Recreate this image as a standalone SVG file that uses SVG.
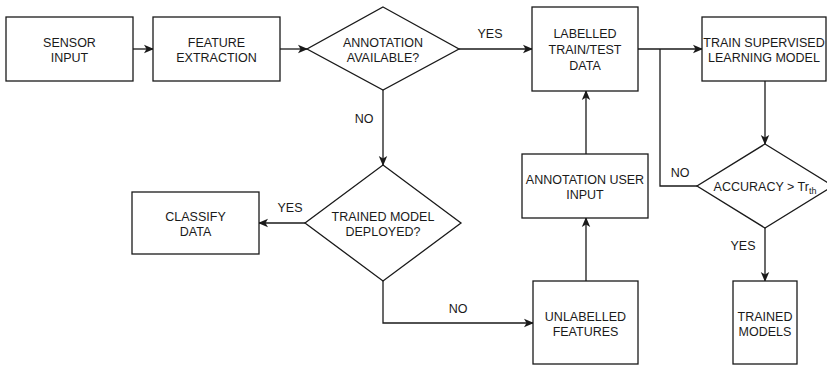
<svg xmlns="http://www.w3.org/2000/svg" width="827" height="366" viewBox="0 0 827 366">
<defs>
<marker id="arr" markerWidth="10" markerHeight="10" refX="9" refY="5" orient="auto" markerUnits="userSpaceOnUse">
<path d="M0,0.8 L10,5 L0,9.2 L2.5,5 Z" fill="#1a1a1a"/>
</marker>
<style>
.box{fill:#fff;stroke:#1a1a1a;stroke-width:1.3}
.ln{fill:none;stroke:#1a1a1a;stroke-width:1.3}
.t{font-family:"Liberation Sans",Arial,sans-serif;font-size:12.5px;fill:#1a1a1a;text-anchor:middle}
</style>
</defs>
<rect width="827" height="366" fill="#fff"/>
<g id="connectors">
<line class="ln" x1="133" y1="49" x2="153" y2="49" marker-end="url(#arr)"/>
<line class="ln" x1="280" y1="49" x2="307" y2="49" marker-end="url(#arr)"/>
<line class="ln" x1="459" y1="49" x2="532" y2="49" marker-end="url(#arr)"/>
<line class="ln" x1="638" y1="49" x2="702" y2="49" marker-end="url(#arr)"/>
<line class="ln" x1="765" y1="81" x2="765" y2="144" marker-end="url(#arr)"/>
<polyline class="ln" points="697,186 660,186 660,49"/>
<line class="ln" x1="765" y1="228" x2="765" y2="281" marker-end="url(#arr)"/>
<line class="ln" x1="383" y1="90" x2="383" y2="165" marker-end="url(#arr)"/>
<line class="ln" x1="305" y1="223" x2="259" y2="223" marker-end="url(#arr)"/>
<polyline class="ln" points="383,281 383,323 533,323" marker-end="url(#arr)"/>
<line class="ln" x1="586" y1="281" x2="586" y2="218" marker-end="url(#arr)"/>
<line class="ln" x1="586" y1="154" x2="586" y2="91" marker-end="url(#arr)"/>
<text class="t" x="490" y="37.5">YES</text>
<text class="t" x="364" y="122.5">NO</text>
<text class="t" x="290" y="211.5">YES</text>
<text class="t" x="458" y="312.5">NO</text>
<text class="t" x="680" y="176.5">NO</text>
<text class="t" x="743" y="249.5">YES</text>
</g>
<g id="sensor-input">
<rect class="box" x="6" y="17" width="127" height="64"/>
<text class="t" x="69.5" y="46.5">SENSOR</text>
<text class="t" x="69.5" y="61.5">INPUT</text>
</g>
<g id="feature-extraction">
<rect class="box" x="153" y="17" width="127" height="64"/>
<text class="t" x="216.5" y="46.5">FEATURE</text>
<text class="t" x="216.5" y="61.5">EXTRACTION</text>
</g>
<g id="annotation-available">
<polygon class="box" points="383,7 459,49 383,90 307,49"/>
<text class="t" x="383" y="46.5">ANNOTATION</text>
<text class="t" x="383" y="61.5">AVAILABLE?</text>
</g>
<g id="labelled-data">
<rect class="box" x="532" y="7" width="106" height="84"/>
<text class="t" x="585" y="37.5">LABELLED</text>
<text class="t" x="585" y="53.5">TRAIN/TEST</text>
<text class="t" x="585" y="69.5">DATA</text>
</g>
<g id="train-supervised">
<rect class="box" x="702" y="17" width="124" height="64"/>
<text class="t" x="764" y="46.5">TRAIN SUPERVISED</text>
<text class="t" x="764" y="61.5">LEARNING MODEL</text>
</g>
<g id="accuracy">
<polygon class="box" points="765,144 833,186 765,228 697,186"/>
<text class="t" x="765" y="190.5">ACCURACY &gt; Tr<tspan font-size="9" dy="3">th</tspan></text>
</g>
<g id="trained-models">
<rect class="box" x="733" y="281" width="64" height="83"/>
<text class="t" x="765" y="320.5">TRAINED</text>
<text class="t" x="765" y="335.5">MODELS</text>
</g>
<g id="trained-model-deployed">
<polygon class="box" points="383,165 461,223 383,281 305,223"/>
<text class="t" x="383" y="220.5">TRAINED MODEL</text>
<text class="t" x="383" y="235.5">DEPLOYED?</text>
</g>
<g id="classify-data">
<rect class="box" x="132" y="192" width="127" height="62"/>
<text class="t" x="195.5" y="220.5">CLASSIFY</text>
<text class="t" x="195.5" y="235.5">DATA</text>
</g>
<g id="annotation-user-input">
<rect class="box" x="522" y="154" width="126" height="64"/>
<text class="t" x="585" y="183.5">ANNOTATION USER</text>
<text class="t" x="585" y="198.5">INPUT</text>
</g>
<g id="unlabelled-features">
<rect class="box" x="533" y="281" width="105" height="83"/>
<text class="t" x="585.5" y="320.5">UNLABELLED</text>
<text class="t" x="585.5" y="335.5">FEATURES</text>
</g>
</svg>
